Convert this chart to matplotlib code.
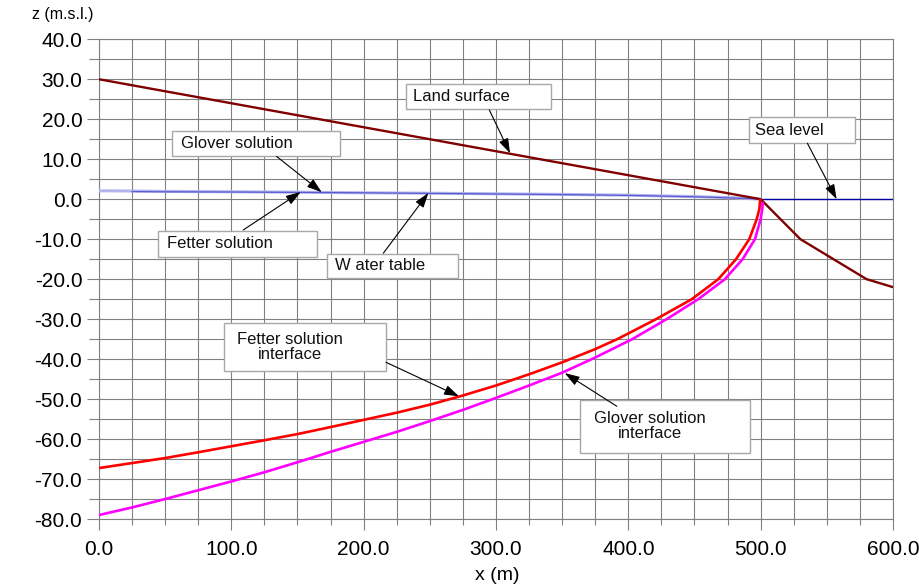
import numpy as np
import matplotlib
matplotlib.use("Agg")
import matplotlib.pyplot as plt
from matplotlib.patches import Rectangle
from matplotlib.ticker import MultipleLocator, FormatStrFormatter

plt.rcParams['font.family'] = ['Liberation Sans', 'DejaVu Sans']

# === DATA ===
land_x = [0, 500, 530, 580, 600]
land_z = [30.0, 0.0, -10.0, -20.0, -22.0]

sea_x = [500, 600]
sea_z = [0.0, 0.0]

# water table (two solutions almost overlapping)
wt_fetter_x = [0, 25, 50, 100, 150, 200, 250, 300, 350, 400, 450, 480, 500]
wt_fetter_z = [2.1, 2.05, 1.95, 1.85, 1.75, 1.6, 1.5, 1.35, 1.2, 1.0, 0.65, 0.35, 0.0]
wt_glover_x = [25, 50, 100, 150, 200, 250, 300, 350, 400, 450, 480, 500]
wt_glover_z = [1.9, 1.85, 1.8, 1.7, 1.6, 1.45, 1.3, 1.15, 0.95, 0.6, 0.3, 0.0]

# interfaces
fetter_x = [0, 25, 50, 75, 100, 125, 150, 175, 200, 225, 250, 275, 300, 325, 350,
            375, 391.7, 421, 448, 468, 481.4, 491.4, 497, 499, 499.6]
fetter_z = [-67.25, -66.0, -64.75, -63.3, -61.8, -60.3, -58.75, -57.0, -55.2, -53.4,
            -51.4, -49.1, -46.6, -43.8, -40.8, -37.5, -35.0, -30.0, -25.0, -20.0,
            -15.0, -10.0, -5.0, -2.5, -0.2]
glover_x = [0, 25, 50, 75, 100, 125, 150, 175, 200, 225, 250, 275, 300, 325, 350,
            375, 403, 429, 452.9, 473, 486.4, 495.7, 500, 501.2, 501.6]
glover_z = [-79.0, -77.1, -75.0, -72.8, -70.6, -68.3, -65.8, -63.2, -60.7, -58.2,
            -55.5, -52.7, -49.7, -46.6, -43.4, -39.6, -35.0, -30.0, -25.0, -20.0,
            -15.0, -10.0, -5.0, -2.5, -1.0]

# annotation boxes: (text, x0, x1, z_bottom, z_top, text_x, text_z)
boxes = [
    ("Glover solution", 55.2, 182.1, 10.8, 17.1, 62.0, 14.0),
    ("Fetter solution", 44.6, 165.0, -14.55, -7.9, 51.6, -11.2),
    ("W ater table", 172.1, 271.6, -19.7, -13.75, 178.3, -16.7),
    ("Land surface", 231.7, 341.6, 22.5, 28.8, 237.5, 25.6),
    ("Sea level", 491.4, 571.6, 14.0, 20.5, 495.7, 17.2),
]
boxes2 = [
    ("Fetter solution\ninterface", 94.4, 216.9, -42.9, -30.9, 144.3, -36.9),
    ("Glover solution\ninterface", 363.5, 492.0, -63.4, -50.2, 416.4, -56.8),
]
# arrows: (tail x, tail z, tip x, tip z)
arrows = [
    (134.2, 10.7, 168.3, 1.75),
    (109.0, -7.7, 152.4, 1.8),
    (214.9, -13.5, 248.9, 1.55),
    (295.0, 22.3, 310.6, 11.5),
    (535.3, 14.0, 557.4, 0.0),
    (216.9, -40.8, 272.0, -49.3),
    (391.3, -51.8, 352.0, -43.5),
]

# === PLOT ===
fig = plt.figure(figsize=(9.19, 5.88), dpi=100)
ax = fig.add_axes([0.1077, 0.1173, 0.8640, 0.8159])

ax.plot(wt_fetter_x, wt_fetter_z, color='#b4b4ec', lw=2.2, zorder=3)
ax.plot(wt_glover_x, wt_glover_z, color='#5a5ad2', lw=0.9, zorder=3)
ax.plot(sea_x, sea_z, color='#0000a0', lw=1.0, zorder=3)
ax.plot(land_x, land_z, color='#800000', lw=1.7, zorder=4)
ax.plot(glover_x, glover_z, color='#ff00ff', lw=1.9, zorder=4)
ax.plot(fetter_x, fetter_z, color='#ff0000', lw=1.9, zorder=5)

for txt, x0, x1, zb, zt, tx, tz in boxes:
    ax.add_patch(Rectangle((x0, zb), x1 - x0, zt - zb, facecolor='white',
                           edgecolor='#a8a8a8', lw=1.0, zorder=6))
    ax.text(tx, tz, txt, fontsize=12, ha='left', va='center', color='#111111', zorder=7)
for txt, x0, x1, zb, zt, tx, tz in boxes2:
    ax.add_patch(Rectangle((x0, zb), x1 - x0, zt - zb, facecolor='white',
                           edgecolor='#a8a8a8', lw=1.0, zorder=6))
    ax.text(tx, tz, txt, fontsize=12, ha='center', va='center', color='#111111',
            multialignment='center', linespacing=1.0, zorder=7)

for x0, z0, x1, z1 in arrows:
    ax.annotate('', xy=(x1, z1), xytext=(x0, z0),
                arrowprops=dict(arrowstyle='-|>,head_length=0.9,head_width=0.3',
                                color='black', lw=0.8, shrinkA=0, shrinkB=0),
                zorder=8)

ax.set_xlim(0, 600)
ax.set_ylim(-80, 40)
ax.xaxis.set_major_locator(MultipleLocator(100))
ax.xaxis.set_minor_locator(MultipleLocator(25))
ax.yaxis.set_major_locator(MultipleLocator(10))
ax.yaxis.set_minor_locator(MultipleLocator(5))
ax.xaxis.set_major_formatter(FormatStrFormatter('%.1f'))
ax.yaxis.set_major_formatter(FormatStrFormatter('%.1f'))
ax.grid(True, which='both', color='#808080', lw=0.8)
ax.set_axisbelow(True)
for s in ax.spines.values():
    s.set_color('#808080')
    s.set_linewidth(0.8)
ax.tick_params(axis='both', which='both', direction='out', color='#808080', width=0.8,
               labelsize=15)
ax.tick_params(axis='y', which='major', length=9, pad=3)
ax.tick_params(axis='y', which='minor', length=7)
ax.tick_params(axis='x', which='major', length=8, pad=7)
ax.tick_params(axis='x', which='minor', length=4)

fig.text(32 / 919, 1 - 15 / 588, "z (m.s.l.)", fontsize=11.5, ha='left', va='center')
fig.text(497 / 919, 1 - 575 / 588, "x (m)", fontsize=14, ha='center', va='center')

fig.savefig("out.png", dpi=100)
